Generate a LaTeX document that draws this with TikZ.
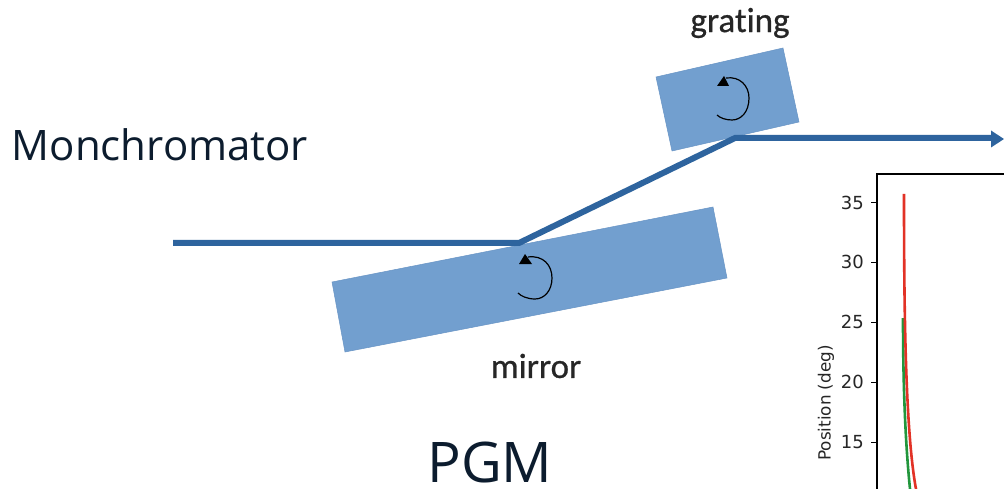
\documentclass[tikz,border=0pt]{standalone}
\usepackage{fontspec}
\setmainfont{Open Sans}
\newfontfamily\calfont[RawFeature={embolden=0.7}]{Carlito}
\newfontfamily\plotfont{DejaVu Sans}
\usetikzlibrary{arrows.meta}
\definecolor{slab}{RGB}{114,159,207}
\definecolor{slabedge}{RGB}{104,148,197}
\definecolor{ray}{RGB}{46,100,158}
\definecolor{darktext}{RGB}{12,28,46}
\definecolor{plotred}{RGB}{226,50,38}
\definecolor{plotgreen}{RGB}{34,150,60}
\tikzset{
  slabshape/.style={fill=slab,draw=slabedge,line width=0.5pt},
  beam/.style={draw=ray,line width=6pt,line join=miter},
  rot/.style={draw=black,line width=1.2pt},
  rothead/.style={fill=black},
  bigtext/.style={text=darktext,inner sep=0pt,anchor=center,font=\fontsize{42}{42}\selectfont},
  pgmtext/.style={text=darktext,inner sep=0pt,anchor=base,font=\fontsize{56}{56}\selectfont},
  smalltext/.style={text=black!85,inner sep=0pt,anchor=center,font=\calfont\fontsize{35}{35}\selectfont},
  ticklab/.style={text=black!85,inner sep=0pt,anchor=east,font=\plotfont\fontsize{18}{18}\selectfont},
  tickmark/.style={draw=black,line width=1pt},
  frameline/.style={draw=black,line width=1.1pt},
}
\begin{document}
\begin{tikzpicture}[x=1pt,y=-1pt]
\useasboundingbox (0,0) rectangle (1004,489);
\fill[white] (0,0) rectangle (1004,489);
% slabs
\path[slabshape] (656,77) -- (783,48) -- (799,122) -- (672,151) -- cycle;
\path[slabshape] (332,282) -- (713,207) -- (727,278) -- (345,352) -- cycle;
% beam
\coordinate (start) at (173,243);
\coordinate (hitm) at (519,243);
\coordinate (hitg) at (735,138);
\draw[beam] (start) -- (hitm) -- (hitg) -- (992,138);
\fill[ray] (991,130.5) -- (1004,139) -- (991,147.5) -- cycle;
% rotation arrows
\draw[rot] (726,78) .. controls (740,76) and (749,86) .. (749,98) .. controls (749,112) and (741,120) .. (732,120) .. controls (726,120) and (720,118) .. (717,115);
\path[rothead] (717,86) -- (729,86) -- (724,76) -- cycle;
\draw[rot] (528,257) .. controls (543,255) and (552,265) .. (552,278) .. controls (552,291) and (544,299) .. (535,299) .. controls (527,299) and (521,296) .. (518,293);
\path[rothead] (519,264) -- (532,264) -- (525,254) -- cycle;
% labels
\node[smalltext] (gr) at (740,23) {grat\kern0pt ing};
\node[smalltext] (mi) at (536,366) {mirror};
\node[bigtext] (mono) at (160,145) {Monchromator};
\node[pgmtext] (pgm) at (490,482) {PGM};
% plot
\draw[frameline] (877,489) -- (877,174) -- (1004,174);
\foreach \yy/\lab in {203/35,262/30,322/25,382/20,442/15}{
  \draw[tickmark] (871,\yy) -- (877,\yy);
  \node[ticklab] at (864,\yy) {\lab};
}
\node[text=black!85,inner sep=0pt,rotate=90,font=\plotfont\fontsize{16.8}{17}\selectfont] (yl) at (826,403) {Position (deg)};
\draw[plotgreen,line width=2.6pt] (903,318) .. controls (903,380) and (905,440) .. (910,489);
\draw[plotred,line width=2.6pt] (904,194) .. controls (904,300) and (905,430) .. (916,489);
\end{tikzpicture}
\end{document}
